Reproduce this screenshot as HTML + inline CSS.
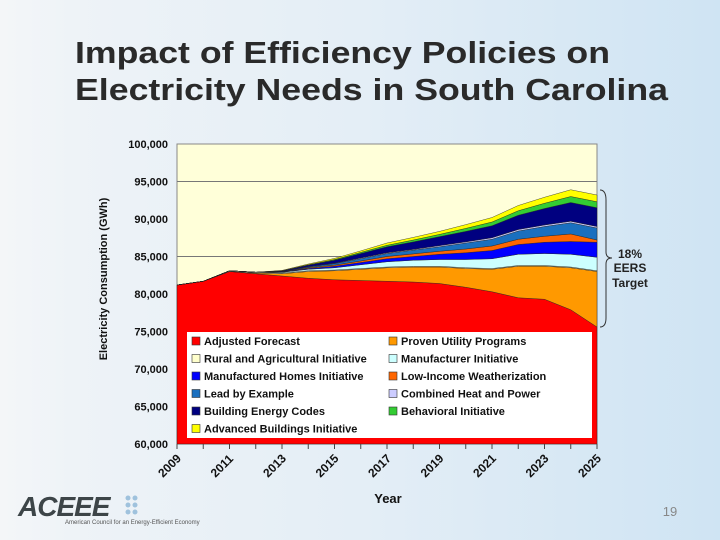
<!DOCTYPE html>
<html><head><meta charset="utf-8"><style>
body{margin:0;width:720px;height:540px;overflow:hidden;font-family:"Liberation Sans",sans-serif;}
#bg{position:absolute;left:0;top:0;width:720px;height:540px;background:linear-gradient(90deg,#f4f6f8 0%,#eef3f7 10%,#e4eef6 50%,#cfe4f3 100%);}
</style></head><body>
<div id="bg"></div>
<svg id="s" width="720" height="540" style="position:absolute;left:0;top:0">
<text x="75" y="63" font-size="31" font-weight="bold" fill="#2a2a2a" textLength="535" lengthAdjust="spacingAndGlyphs">Impact of Efficiency Policies on</text>
<text x="75" y="100" font-size="31" font-weight="bold" fill="#2a2a2a" textLength="593" lengthAdjust="spacingAndGlyphs">Electricity Needs in South Carolina</text>
<g id="chart"></g>
<g>
<path d="M600,190 Q606,190 606,200 L606,252 Q606,258 612,258 Q606,258 606,264 L606,318 Q606,327 600,327" fill="none" stroke="#333" stroke-width="1"/>
</g>
<text x="630" y="258" font-size="12" font-weight="bold" text-anchor="middle" fill="#222">18%</text>
<text x="630" y="272" font-size="12" font-weight="bold" text-anchor="middle" fill="#222">EERS</text>
<text x="630" y="287" font-size="12" font-weight="bold" text-anchor="middle" fill="#222">Target</text>
<g>
<text x="18" y="516" font-size="28" font-weight="bold" font-style="italic" fill="#3d4548" letter-spacing="-1">ACEEE</text>
<g fill="#9fc2dd"><circle cx="128" cy="498" r="2.5"/><circle cx="135" cy="498" r="2.5"/><circle cx="128" cy="505" r="2.5"/><circle cx="135" cy="505" r="2.5"/><circle cx="128" cy="512" r="2.5"/><circle cx="135" cy="512" r="2.5"/></g>
<text x="65" y="524" font-size="6" fill="#555">American Council for an Energy-Efficient Economy</text>
</g>
<text x="670" y="516" font-size="13" fill="#888" text-anchor="middle">19</text>
</svg>
<script>
const years=[2009,2010,2011,2012,2013,2014,2015,2016,2017,2018,2019,2020,2021,2022,2023,2024,2025];
const seriesNames=["Adjusted Forecast","Proven Utility Programs","Rural and Agricultural Initiative","Manufacturer Initiative","Manufactured Homes Initiative","Low-Income Weatherization","Lead by Example","Combined Heat and Power","Building Energy Codes","Behavioral Initiative","Advanced Buildings Initiative"];
const seriesColors=["#ff0000","#ff9900","#ffffcc","#ccffff","#0000ff","#ff6600","#1a6fbf","#ccccff","#000080","#33cc33","#ffff00"];
const adjusted=[81200,81700,83000,82700,82400,82100,81900,81800,81700,81600,81400,80900,80300,79500,79300,77900,75600];
const proven=[0,0,0,100,300,900,1200,1500,1800,2000,2200,2500,3000,4200,4400,5600,7400];
const rural=[0,0,100,100,100,100,100,100,100,100,100,100,100,100,100,100,100];
const manufacturer=[0,0,0,0,100,200,300,500,700,800,900,1100,1300,1500,1600,1700,1800];
const homes=[0,0,0,0,50,100,200,300,400,500,700,900,1100,1300,1500,1700,2000];
const lowIncome=[0,0,0,0,0,100,150,200,300,350,400,500,600,700,800,1000,300];
const leadEx=[0,0,0,0,50,100,200,300,400,500,600,800,900,1100,1300,1500,1600];
const chp=[0,0,0,0,0,50,50,100,100,100,150,150,200,200,200,200,200];
const codes=[0,0,0,0,100,200,400,600,800,1000,1200,1400,1600,1900,2200,2500,2500];
const behavioral=[0,0,0,0,0,50,100,150,200,250,300,400,500,600,700,800,800];
const advanced=[0,0,0,0,50,100,150,200,300,350,400,500,600,700,800,900,900];
const yTicks=[60000,65000,70000,75000,80000,85000,90000,95000,100000];
const xTickLabels=[2009,2011,2013,2015,2017,2019,2021,2023,2025];
const allSeries=[adjusted,proven,rural,manufacturer,homes,lowIncome,leadEx,chp,codes,behavioral,advanced];

const NS="http://www.w3.org/2000/svg";
const g=document.getElementById('chart');
const L=177,R=597,T=144,B=444,ymin=60000,ymax=100000;
const xs=y=>L+(y-years[0])/(years[years.length-1]-years[0])*(R-L);
const ys=v=>B-(Math.max(v,ymin)-ymin)/(ymax-ymin)*(B-T);
function mk(tag,attrs,parent){const e=document.createElementNS(NS,tag);for(const k in attrs)e.setAttribute(k,attrs[k]);(parent||g).appendChild(e);return e;}
const bg=mk('rect',{x:L,y:T,width:R-L,height:B-T,fill:'#ffffd9',stroke:'#888','stroke-width':1});


[85000,95000].forEach(v=>{const l=mk('line',{x1:L,x2:R,y1:ys(v),y2:ys(v),stroke:'#777','stroke-width':1});

});
// stacked areas
let base=years.map(()=>0);
allSeries.forEach((s,i)=>{
  const top=base.map((b,j)=>b+s[j]);
  let d='M'+years.map((y,j)=>xs(y)+','+ys(top[j])).join(' L');
  for(let j=years.length-1;j>=0;j--)d+=' L'+xs(years[j])+','+ys(base[j]);
  d+='Z';
  const p=mk('path',{d:d,fill:seriesColors[i],stroke:'#222','stroke-width':0.4});
  
  
  base=top;
});
// y ticks
yTicks.forEach(v=>{const t=mk('text',{x:168,y:ys(v)+4,'font-size':11,'font-weight':'bold','text-anchor':'end',fill:'#111'});t.textContent=v.toLocaleString('en-US');

});
const yt=mk('text',{x:0,y:0,'font-size':11,'font-weight':'bold','text-anchor':'middle',fill:'#111',transform:'translate(107,279) rotate(-90)'});
yt.textContent='Electricity Consumption (GWh)';


// x axis
years.forEach(y=>{const l=mk('line',{x1:xs(y),x2:xs(y),y1:B,y2:B+5,stroke:'#444'});

});
xTickLabels.forEach(y=>{const x=xs(y)-14,yy=478;const t=mk('text',{x:x,y:yy,'font-size':12,'font-weight':'bold',fill:'#111',transform:`rotate(-45 ${x} ${yy})`});t.textContent=y;

});
const xt=mk('text',{x:388,y:503,'font-size':13,'font-weight':'bold','text-anchor':'middle',fill:'#111'});xt.textContent='Year';


// legend
const lg=mk('g',{});


mk('rect',{x:184,y:330,width:411,height:111,fill:'#ff0000'},lg);
mk('rect',{x:187,y:332,width:405,height:106,fill:'#ffffff'},lg);
const order=[0,1,2,3,4,5,6,7,8,9,10];
order.forEach((si,k)=>{const col=k%2,row=Math.floor(k/2);const x=col?389:192,y=341+row*17.5;
  const e=mk('g',{},lg);
  
  
  mk('rect',{x:x,y:y-4,width:8,height:8,fill:seriesColors[si],stroke:'#333','stroke-width':0.6},e);
  const t=mk('text',{x:x+12,y:y+4,'font-size':11,'font-weight':'bold',fill:'#111'},e);t.textContent=seriesNames[si];
});
</script>
</body></html>
